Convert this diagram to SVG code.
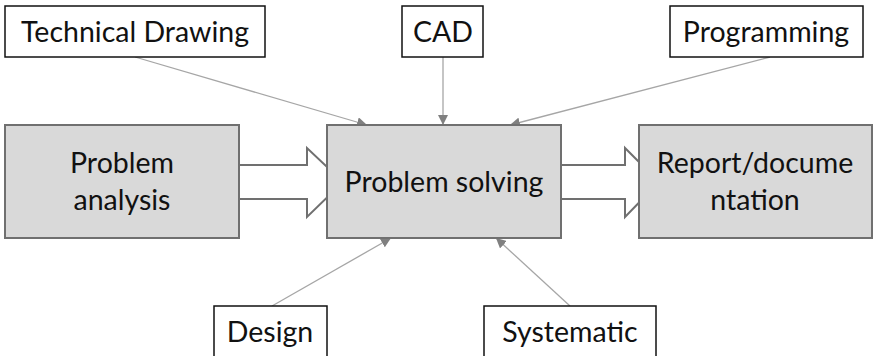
<svg xmlns="http://www.w3.org/2000/svg" width="874" height="356" viewBox="0 0 874 356">
<style>
  text { font-family: Lato, "Open Sans", "Liberation Sans", sans-serif; font-size: 28.5px; fill: #111; text-anchor: middle; }
  .main { fill: #d9d9d9; stroke: #707070; stroke-width: 2; }
  .lbl { fill: #ffffff; stroke: #111; stroke-width: 1.5; }
  .blk { fill: #ffffff; stroke: #707070; stroke-width: 2; stroke-linejoin: miter; }
  .con { stroke: #a6a6a6; stroke-width: 1.3; fill: none; marker-end: url(#ah); }
</style>
<defs>
  <marker id="ah" viewBox="0 0 10 10" refX="10" refY="5" markerWidth="10" markerHeight="10" markerUnits="userSpaceOnUse" orient="auto">
    <path d="M0,0 L10,5 L0,10 z" fill="#808080"/>
  </marker>
</defs>
<rect width="874" height="356" fill="#ffffff"/>
<g id="block-arrows">
  <polygon class="blk" points="238,165 307,165 307,148 343,182 307,217 307,199 238,199"/>
  <polygon class="blk" points="560,165 625,165 625,148 659,182 625,217 625,199 560,199"/>
</g>
<g id="connectors">
  <line class="con" x1="135" y1="57" x2="367" y2="125"/>
  <line class="con" x1="443" y1="57" x2="443" y2="125"/>
  <line class="con" x1="770" y1="57" x2="510" y2="125"/>
  <line class="con" x1="272" y1="306" x2="391" y2="238"/>
  <line class="con" x1="570" y1="306" x2="496" y2="238"/>
</g>
<g id="problem-analysis">
  <rect class="main" x="5" y="125" width="234" height="113"/>
  <text x="122" y="173">Problem</text>
  <text x="122" y="210">analysis</text>
</g>
<g id="problem-solving">
  <rect class="main" x="327" y="125" width="234" height="113"/>
  <text x="444" y="192">Problem solving</text>
</g>
<g id="report">
  <rect class="main" x="639" y="125" width="233" height="113"/>
  <text x="755" y="173">Report/docume</text>
  <text x="755" y="210">ntation</text>
</g>
<g id="technical-drawing">
  <rect class="lbl" x="5" y="6" width="260" height="51"/>
  <text x="135" y="42">Technical Drawing</text>
</g>
<g id="cad">
  <rect class="lbl" x="402" y="6" width="81" height="51"/>
  <text x="443" y="42">CAD</text>
</g>
<g id="programming">
  <rect class="lbl" x="670" y="6" width="193" height="51"/>
  <text x="766" y="42">Programming</text>
</g>
<g id="design">
  <rect class="lbl" x="214" y="306" width="113" height="60"/>
  <text x="270" y="342">Design</text>
</g>
<g id="systematic">
  <rect class="lbl" x="484" y="306" width="172" height="60"/>
  <text x="570" y="342">Systematic</text>
</g>
</svg>
